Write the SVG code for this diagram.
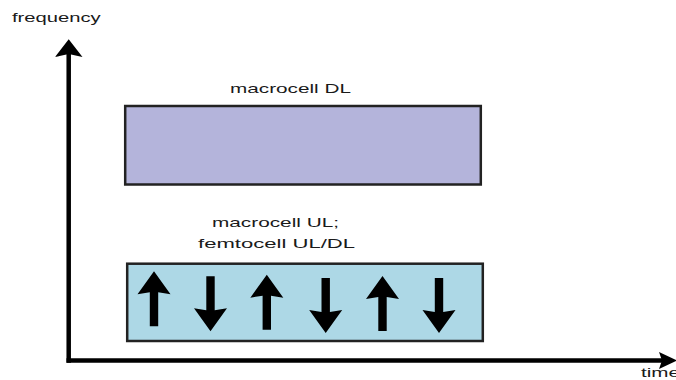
<svg xmlns="http://www.w3.org/2000/svg" width="676" height="380" viewBox="0 0 676 380">
  <style>
    .lbl { font-family: "Liberation Sans", Arial, sans-serif; font-size: 13px; fill: #1a1a1a; }
    .band { stroke: #222222; stroke-width: 2.5; }
    .axis { stroke: #000000; stroke-width: 4.5; fill: none; }
    .head { fill: #000000; }
  </style>
  <defs>
    <path id="arr" d="M0,0 L16.5,23 L4.2,21 L4.2,55 L-4.2,55 L-4.2,21 L-16.5,23 Z" fill="#000000"/>
  </defs>
  <rect width="676" height="380" fill="#ffffff"/>

  <g id="connectors">
    <line class="axis" x1="68.7" y1="52" x2="68.7" y2="362.7"/>
    <path class="head" d="M68.7,39.3 L82.5,57 L68.7,54 L55,57 Z"/>
    <line class="axis" x1="66.5" y1="360.5" x2="664" y2="360.5"/>
    <path class="head" d="M677,360.5 L659,352 L662,360.5 L659,369 Z"/>
  </g>

  <g id="axis-labels">
    <text class="lbl" x="12" y="21.7" textLength="88.7" lengthAdjust="spacingAndGlyphs">frequency</text>
    <text class="lbl" x="641" y="377.3" textLength="39" lengthAdjust="spacingAndGlyphs">time</text>
  </g>

  <g id="macrocell-dl">
    <rect class="band" x="125.2" y="106" width="355.6" height="78.5" fill="#b4b4db"/>
    <text class="lbl" x="230" y="93.3" textLength="121" lengthAdjust="spacingAndGlyphs">macrocell DL</text>
  </g>

  <g id="shared-band">
    <text class="lbl" x="212" y="227" textLength="127" lengthAdjust="spacingAndGlyphs">macrocell UL;</text>
    <text class="lbl" x="198" y="247.5" textLength="157" lengthAdjust="spacingAndGlyphs">femtocell UL/DL</text>
    <rect class="band" x="127.2" y="263.7" width="355.6" height="77.3" fill="#add8e6"/>
    <use href="#arr" transform="translate(154,271.3)"/>
    <use href="#arr" transform="translate(210.5,331.3) rotate(180)"/>
    <use href="#arr" transform="translate(266.8,274.7)"/>
    <use href="#arr" transform="translate(325.7,333) rotate(180)"/>
    <use href="#arr" transform="translate(382.5,276)"/>
    <use href="#arr" transform="translate(439,333) rotate(180)"/>
  </g>
</svg>
